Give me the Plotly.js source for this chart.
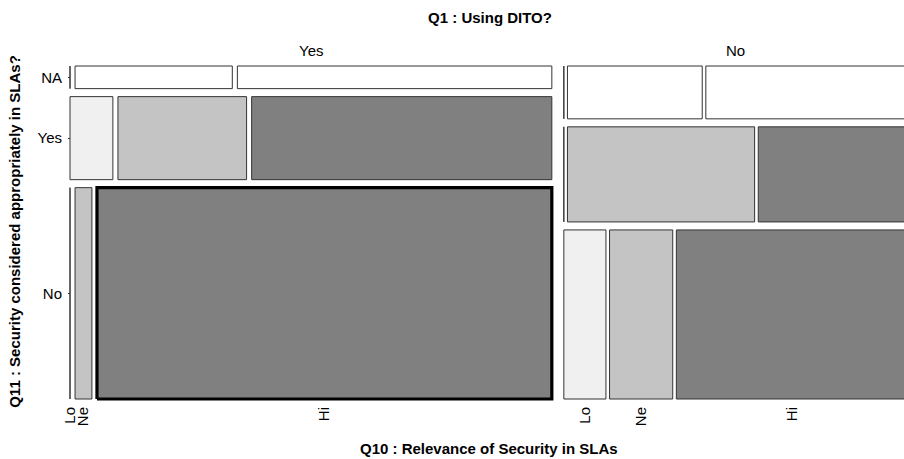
<!DOCTYPE html>
<html>
<head>
<meta charset="utf-8">
<script src="https://cdn.plot.ly/plotly-3.0.1.min.js"></script>
<style>html,body{margin:0;padding:0;background:#fff;}#chart{width:904px;height:459px;}</style>
</head>
<body>
<div id="chart"></div>
<script>
// ---- data ----
const q1Levels = ['Yes', 'No'];            // columns (Q1 : Using DITO?)
const q11Levels = ['NA', 'Yes', 'No'];     // rows (Q11)
const q10Levels = ['Lo', 'Ne', 'Hi'];      // cells inside a row (Q10)
// counts[q11][q10] for each Q1 column
const countsQ1Yes = [[0, 1, 2], [1, 3, 7], [0, 1, 27]];
const countsQ1No  = [[0, 2, 3], [0, 5, 4], [2, 3, 11]];
const highlightCell = {q1: 'Yes', q11: 'No', q10: 'Hi'};

// ---- styles ----
const q10Fill = ['#f0f0f0', '#c4c4c4', '#808080'];
const naFill = '#ffffff';
const borderColor = '#333333';
const FONT = 'Liberation Sans, Arial, sans-serif';
const FS = 15;

// ---- mosaic geometry (computed from counts) ----
const allCounts = [countsQ1Yes, countsQ1No];
const sum = a => a.reduce((s, v) => s + v, 0);
const colTotals = allCounts.map(t => sum(t.map(sum)));
const N = sum(colTotals);
const colGap = 12 / 826;     // gap between Q1 columns (fraction of width)
const rowGap = 8 / 333;      // gap between Q11 rows (fraction of height)
const cellGapFrac = 0.0105;  // gap between Q10 cells relative to column width

const traces = [];
let highlightTrace = null;
const bottomCenters = [], bottomLabels = [];
const colCenters = [], colStarts = [];
const rowCenters = [[], []];
let x0 = 0;
allCounts.forEach((table, c) => {
  const wc = colTotals[c] / N;
  colCenters.push(x0 + wc / 2);
  colStarts.push(x0);
  const availH = 1 - rowGap * (q11Levels.length - 1);
  let top = 1;
  table.forEach((row, r) => {
    const rowTot = sum(row);
    const h = rowTot / colTotals[c] * availH;
    const y1 = top, y0 = top - h;
    rowCenters[c].push((y0 + y1) / 2);
    const cg = cellGapFrac * wc;
    const availW = wc - cg * (q10Levels.length - 1);
    let x = x0;
    row.forEach((v, k) => {
      const w = v / rowTot * availW;
      const isHi = q1Levels[c] === highlightCell.q1 && q11Levels[r] === highlightCell.q11 && q10Levels[k] === highlightCell.q10;
      const tr = {
        type: 'scatter', mode: 'lines',
        x: [x, x + w, x + w, x, x],
        y: [y0, y0, y1, y1, y0],
        fill: 'toself',
        fillcolor: q11Levels[r] === 'NA' ? naFill : q10Fill[k],
        line: {color: isHi ? '#000000' : borderColor, width: isHi ? 3.2 : 1},
        hoverinfo: 'text',
        text: q1Levels[c] + ' / ' + q11Levels[r] + ' / ' + q10Levels[k] + ': ' + v,
        showlegend: false
      };
      if (isHi) highlightTrace = tr; else traces.push(tr);
      if (r === q11Levels.length - 1) {
        bottomCenters.push(x + w / 2);
        bottomLabels.push(q10Levels[k]);
      }
      x += w + cg;
    });
    top = y0 - rowGap;
  });
  x0 += wc + colGap;
});
if (highlightTrace) traces.push(highlightTrace);
const mosaicCenter = (0 + (x0 - colGap)) / 2;

// pixel framing
const pxPerX = 826, pxPerY = 333;
const mL = 60, mR = 0, mT = 60, mB = 56;
const plotW = 904 - mL - mR, plotH = 459 - mT - mB;
const xLo = -10 / pxPerX;
const xHi = xLo + plotW / pxPerX;
const yLo = -4 / pxPerY;
const yHi = yLo + plotH / pxPerY;
const toPaperX = v => (v - xLo) / (xHi - xLo);

const tickFont = {family: FONT, size: FS, color: '#000'};
const layout = {
  width: 904, height: 459,
  margin: {l: mL, r: mR, t: mT, b: mB},
  paper_bgcolor: '#ffffff', plot_bgcolor: '#ffffff',
  font: {family: FONT, size: FS, color: '#000'},
  title: {text: '<b>Q1 : Using DITO?</b>', font: {family: FONT, size: FS, color: '#000'},
          x: 490 / 904, xanchor: 'center', xref: 'container', y: 1 - 18 / 459, yanchor: 'middle', yref: 'container'},
  xaxis: {
    range: [xLo, xHi], showgrid: false, zeroline: false, showline: false,
    tickmode: 'array', tickvals: bottomCenters, ticktext: bottomLabels,
    tickangle: -90, ticks: '', tickfont: tickFont, fixedrange: true
  },
  yaxis: {
    range: [yLo, yHi], showgrid: false, zeroline: false, showline: false,
    anchor: 'free', position: toPaperX(colStarts[0]),
    tickmode: 'array', tickvals: rowCenters[0], ticktext: q11Levels,
    ticks: 'outside', ticklen: 2, tickcolor: '#333', tickfont: tickFont, ticklabelstandoff: 3,
    title: {text: '<b>Q11 : Security considered appropriately in SLAs?</b>', font: {family: FONT, size: FS, color: '#000'}, standoff: 12},
    fixedrange: true
  },
  yaxis2: {
    range: [yLo, yHi], overlaying: 'y', anchor: 'free', position: toPaperX(colStarts[1]), side: 'left',
    showgrid: false, zeroline: false, showline: false,
    tickmode: 'array', tickvals: rowCenters[1], ticktext: q11Levels, showticklabels: false,
    ticks: 'inside', ticklen: 2, tickcolor: '#333', fixedrange: true
  },
  annotations: [
    ...q1Levels.map((lv, c) => ({
      text: lv, x: colCenters[c], xref: 'x', y: 1, yref: 'paper', yanchor: 'bottom', yshift: -1,
      showarrow: false, font: tickFont
    })),
    {text: '<b>Q10 : Relevance of Security in SLAs</b>', x: mosaicCenter, xref: 'x', y: 0, yref: 'paper',
     yanchor: 'middle', yshift: -(448 - 403), showarrow: false, font: {family: FONT, size: FS, color: '#000'}}
  ],
  showlegend: false
};

Plotly.newPlot('chart', traces, layout, {displayModeBar: false, staticPlot: true});
</script>
</body>
</html>
